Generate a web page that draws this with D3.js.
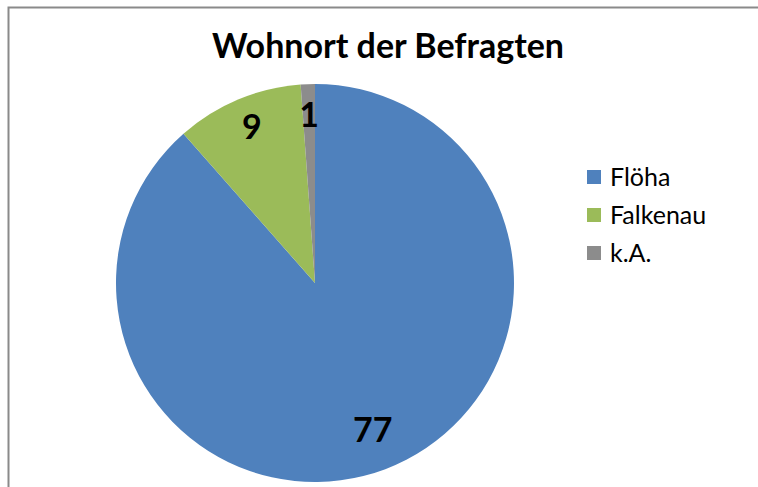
<!DOCTYPE html>
<html>
<head>
<meta charset="utf-8">
<script src="https://cdn.jsdelivr.net/npm/d3@7"></script>
<style>
  html, body { margin: 0; padding: 0; background: #fff; }
  #chart { width: 758px; height: 487px; }
  text { font-family: Lato, "Open Sans", sans-serif; }
</style>
</head>
<body>
<div id="chart"></div>
<script>
// data
const categories = ["Flöha", "Falkenau", "k.A."];
const counts = [77, 9, 1];
const colors = ["#4f81bd", "#9bbb59", "#8c8c8c"];
const chartTitle = "Wohnort der Befragten";

const width = 758;
const height = 487;

const rows = categories.map((c, i) => ({ name: c, v: counts[i], color: colors[i] }));

const svg = d3
  .select("#chart")
  .append("svg")
  .attr("width", width)
  .attr("height", height);

svg.append("rect").attr("width", width).attr("height", height).attr("fill", "#fff");

// frame (only top + left visible in the original crop)
svg
  .append("path")
  .attr("d", `M8.5,${height} L8.5,7.5 L${width},7.5`)
  .attr("fill", "none")
  .attr("stroke", "#8a8a8a")
  .attr("stroke-width", 2);

// title
svg
  .append("text")
  .attr("x", 388)
  .attr("y", 58)
  .attr("text-anchor", "middle")
  .style("font-weight", "700")
  .style("font-size", "34px")
  .style("fill", "#000")
  .text(chartTitle);

const cx = 315;
const cy = 283;
const radius = 199;

const pie = d3.pie().value((d) => d.v).sort(null);
const arc = d3.arc().innerRadius(0).outerRadius(radius);
const labelArc = d3.arc().innerRadius(radius * 0.82).outerRadius(radius * 0.82);

const g = svg.append("g").attr("transform", `translate(${cx},${cy})`);

const slices = pie(rows);

g.selectAll("path")
  .data(slices)
  .enter()
  .append("path")
  .attr("d", arc)
  .attr("fill", (p) => p.data.color);

g.selectAll("text.lbl")
  .data(slices)
  .enter()
  .append("text")
  .attr("class", "lbl")
  .attr("transform", (p) => `translate(${labelArc.centroid(p)})`)
  .attr("text-anchor", "middle")
  .attr("dy", "0.2em")
  .style("font-weight", "700")
  .style("font-size", "34px")
  .style("fill", "#000")
  .text((p) => p.data.v);

// legend
const legend = svg
  .append("g")
  .attr("transform", "translate(587,177)");

const item = legend
  .selectAll("g")
  .data(rows)
  .enter()
  .append("g")
  .attr("transform", (d, i) => `translate(0,${i * 38})`);

item
  .append("rect")
  .attr("x", 0)
  .attr("y", -7)
  .attr("width", 14)
  .attr("height", 14)
  .attr("fill", (d) => d.color);

item
  .append("text")
  .attr("x", 23)
  .attr("dy", "0.36em")
  .style("font-size", "25px")
  .style("fill", "#000")
  .text((d) => d.name);
</script>
</body>
</html>
